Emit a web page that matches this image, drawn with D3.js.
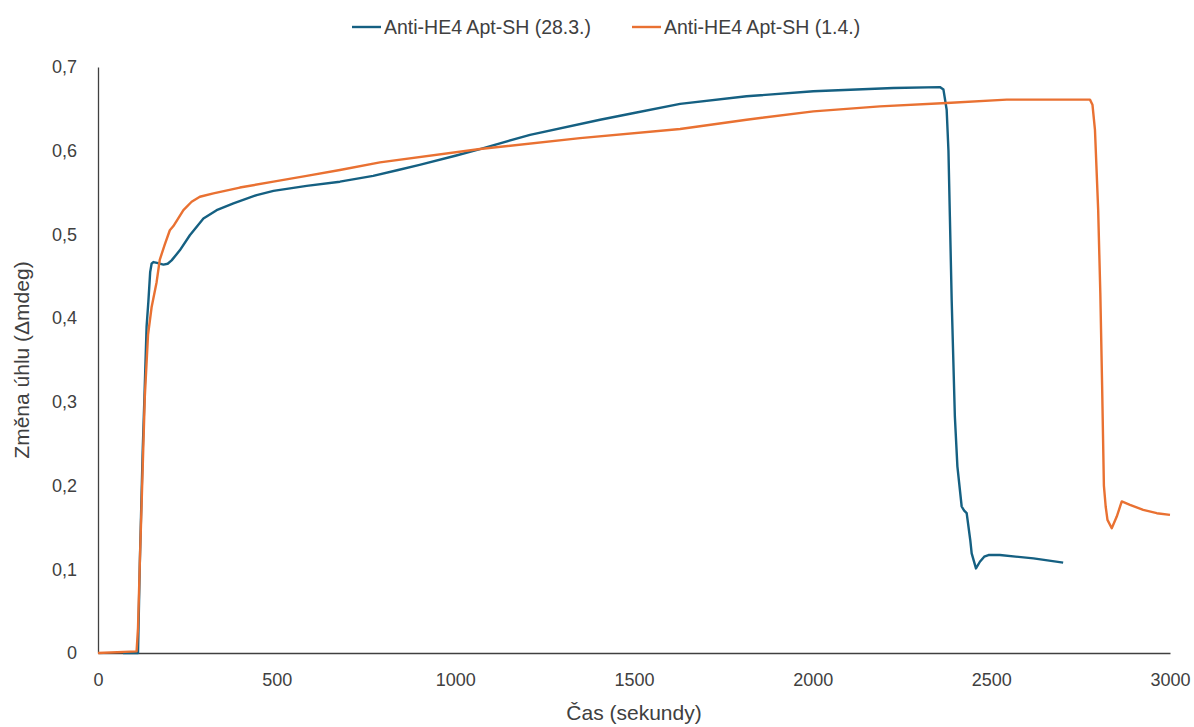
<!DOCTYPE html>
<html>
<head>
<meta charset="utf-8">
<script src="https://cdn.jsdelivr.net/npm/d3@7"></script>
<style>
	body { margin: 0; background: #fff; }
	text { font-family: 'Liberation Sans', Arial, sans-serif; }
</style>
</head>
<body>
<div id="chart"></div>
<script>
'use strict';

// series names (legend)
var seriesNames = ['Anti-HE4 Apt-SH (28.3.)', 'Anti-HE4 Apt-SH (1.4.)'];

// 28.3. measurement: time (s) / angle change (mdeg)
var timeA = [70, 112, 117, 125, 130, 136, 141, 146, 150, 155, 165, 183, 195, 206, 229, 257, 295, 332, 379, 444, 491, 584, 677, 770, 840, 900, 1000, 1069, 1209, 1405, 1500, 1629, 1815, 2002, 2226, 2356, 2366, 2375, 2380, 2384, 2389, 2398, 2405, 2417, 2424, 2431, 2441, 2445, 2457, 2468, 2480, 2492, 2524, 2618, 2701];
var valA = [0, 0, 0.107, 0.24, 0.306, 0.39, 0.42, 0.455, 0.465, 0.467, 0.466, 0.464, 0.465, 0.469, 0.481, 0.499, 0.519, 0.529, 0.537, 0.547, 0.552, 0.558, 0.563, 0.570, 0.577, 0.583, 0.594, 0.602, 0.619, 0.637, 0.645, 0.656, 0.665, 0.671, 0.675, 0.676, 0.673, 0.649, 0.600, 0.521, 0.422, 0.282, 0.223, 0.175, 0.170, 0.167, 0.135, 0.119, 0.101, 0.109, 0.115, 0.117, 0.117, 0.113, 0.108];

// 1.4. measurement
var timeB = [0, 108, 112, 117, 125, 131, 140, 150, 164, 173, 187, 201, 211, 239, 262, 285, 323, 397, 491, 584, 677, 789, 1069, 1349, 1629, 1815, 2002, 2188, 2375, 2543, 2776, 2783, 2790, 2799, 2805, 2810, 2815, 2820, 2825, 2837, 2851, 2865, 2888, 2925, 2963, 3000];
var valB = [0, 0.002, 0.03, 0.107, 0.22, 0.306, 0.38, 0.413, 0.443, 0.47, 0.488, 0.505, 0.51, 0.529, 0.539, 0.545, 0.549, 0.556, 0.563, 0.570, 0.577, 0.586, 0.602, 0.615, 0.626, 0.637, 0.647, 0.653, 0.657, 0.661, 0.661, 0.655, 0.625, 0.529, 0.43, 0.32, 0.20, 0.175, 0.159, 0.149, 0.163, 0.181, 0.177, 0.171, 0.167, 0.165];

var xTicks = [0, 500, 1000, 1500, 2000, 2500, 3000];
var yTicks = [0, 0.1, 0.2, 0.3, 0.4, 0.5, 0.6, 0.7];

var colors = ['#156082', '#E97132'];
var textColor = '#404040';

var W = 1194, H = 727;
var margin = {top: 67, right: 24, bottom: 74, left: 98};
var width = W - margin.left - margin.right;
var height = H - margin.top - margin.bottom;

var svg = d3.select('#chart').append('svg')
	.attr('width', W)
	.attr('height', H);

var g = svg.append('g')
	.attr('transform', 'translate(' + margin.left + ',' + margin.top + ')');

var x = d3.scaleLinear().domain([0, 3000]).range([0, width]);
var y = d3.scaleLinear().domain([0, 0.7]).range([height, 0]);

var fmt = function(d){ return d === 0 ? '0' : d3.format('.1f')(d).replace('.', ','); };

// axes (no tick marks, just labels)
var xAxis = g.append('g')
	.attr('transform', 'translate(0,' + height + ')')
	.call(d3.axisBottom(x).tickValues(xTicks).tickSize(0).tickPadding(20).tickFormat(d3.format('d')));
xAxis.select('.domain').attr('stroke', textColor).attr('stroke-width', 1.3);
xAxis.selectAll('text').attr('font-size', 18).attr('fill', textColor);

var yAxis = g.append('g')
	.call(d3.axisLeft(y).tickValues(yTicks).tickSize(0).tickPadding(21).tickFormat(fmt));
yAxis.select('.domain').attr('stroke', textColor).attr('stroke-width', 1.3);
yAxis.selectAll('text').attr('font-size', 18).attr('fill', textColor);
xAxis.attr('font-family', null);
yAxis.attr('font-family', null);

var line = d3.line()
	.x(function(d){ return x(d[0]); })
	.y(function(d){ return y(d[1]); });

var series = [d3.zip(timeA, valA), d3.zip(timeB, valB)];

g.selectAll('path.series')
	.data(series)
	.enter().append('path')
		.attr('class', 'series')
		.attr('fill', 'none')
		.attr('stroke', function(d, i){ return colors[i]; })
		.attr('stroke-width', 2.4)
		.attr('stroke-linejoin', 'round')
		.attr('d', line);

// axis titles
svg.append('text')
	.attr('x', margin.left + width/2)
	.attr('y', 720)
	.attr('text-anchor', 'middle')
	.attr('font-size', 21)
	.attr('fill', textColor)
	.text('Čas (sekundy)');

svg.append('text')
	.attr('transform', 'translate(29,' + (margin.top + height/2) + ') rotate(-90)')
	.attr('text-anchor', 'middle')
	.attr('font-size', 21)
	.attr('fill', textColor)
	.text('Změna úhlu (Δmdeg)');

// legend
var legendX = [352, 632];
var legend = svg.selectAll('g.legend')
	.data(seriesNames)
	.enter().append('g')
		.attr('class', 'legend')
		.attr('transform', function(d, i){ return 'translate(' + legendX[i] + ',27)'; });

legend.append('line')
	.attr('x1', 0).attr('x2', 29)
	.attr('stroke', function(d, i){ return colors[i]; })
	.attr('stroke-width', 2.4);

legend.append('text')
	.attr('x', 32)
	.attr('dy', '0.35em')
	.attr('font-size', 19.5)
	.attr('fill', textColor)
	.text(function(d){ return d; });
</script>
</body>
</html>
